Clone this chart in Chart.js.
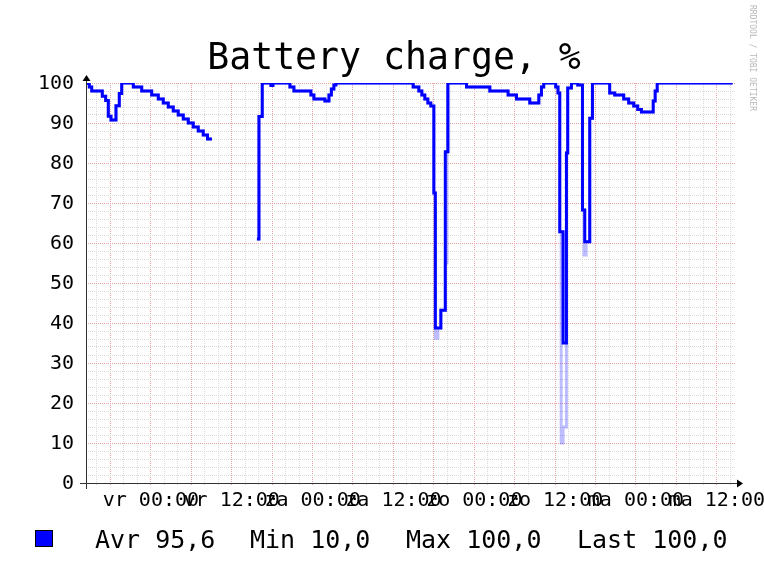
<!DOCTYPE html>
<html>
<head>
<meta charset="utf-8">
<script src="https://cdn.jsdelivr.net/npm/chart.js@4"></script>
<style>
  html, body { margin: 0; padding: 0; background: #ffffff; }
  #wrap { width: 764px; height: 571px; }
</style>
</head>
<body>
<div id="wrap"><canvas id="chartBattery" width="764" height="571"></canvas></div>
<script>
// hours relative to vr 00:00
const hours = [
  -9.63, -9.14, -8.78, -7.21, -6.71, -6.32, -5.92, -5.18, -4.69, -4.33, -2.61, -1.36,
  0.12, 1.10, 1.84, 2.58, 3.32, 4.06, 4.81, 5.55, 6.29, 7.03, 7.77, 8.40, 9.06, 9.2,
  15.74, 16.04, 16.53, 17.82, 18.11, 20.64, 21.23, 23.75, 24.20, 25.83, 26.43, 26.79, 27.16, 27.46,
  38.93, 39.77, 40.22, 40.66, 41.11, 41.55, 42.0, 42.22, 42.6, 43.04, 43.7, 43.95, 44.07, 44.2,
  46.85, 50.31, 53.02, 54.27, 56.24, 57.58, 57.97, 58.31, 60.09, 60.43, 60.69, 60.9, 61.18, 61.68, 61.87, 62.42,
  63.36, 64.06, 64.3, 64.40, 64.6, 65.14, 65.54, 68.10, 68.85, 70.18, 70.92, 71.67, 72.26, 72.81, 74.56, 74.85, 75.15, 86.35
];
const avgCharge = [
  99.9, 99, 98, 96.7, 95.6, 91.7, 90.75, 94.3, 97.4, 100, 99, 98,
  97, 96, 95, 94, 93, 92, 91, 90, 89, 88, 87, 86, 86, null,
  61, 91.6, 100, 99.4, 100, 99, 98, 97, 96, 95.5, 97, 98.5, 99.5, 100,
  99, 98, 97, 96, 95, 94.25, 72.5, 38.75, 38.75, 43.2, 82.8, 82.8, 100, 100,
  99, 98, 97, 96, 95, 97, 99, 100, 99, 97.5, 62.8, 62.8, 35, 82.5, 98.75, 100,
  99.5, 68.25, 68.25, 60.3, 60.3, 91.2, 100, 97.5, 97, 96, 95, 94.25, 93.4, 92.75, 95.5, 98, 100, 100
];
const minCharge = [
  99.9, 99, 98, 96.7, 95.6, 91.7, 90.75, 94.3, 97.4, 100, 99, 98,
  97, 96, 95, 94, 93, 92, 91, 90, 89, 88, 87, 86, 86, null,
  61, 91.6, 100, 99.4, 100, 99, 98, 97, 96, 95.5, 97, 98.5, 99.5, 100,
  99, 98, 97, 96, 95, 94.25, 72.5, 36.2, 38.75, 43.2, 55, 82.8, 82.8, 100,
  99, 98, 97, 96, 95, 97, 99, 100, 99, 97.5, 62.8, 10, 14, 82.5, 98.75, 100,
  99.5, 68.25, 57, 57, 60.3, 91.2, 100, 97.5, 97, 96, 95, 94.25, 93.4, 92.75, 95.5, 98, 100, 100
];

const dayNames = ['vr', 'za', 'zo', 'ma'];
const labelHours = [0, 12, 24, 36, 48, 60, 72, 84];
const legendItems = ['Avr 95,6', 'Min 10,0', 'Max 100,0', 'Last 100,0'];

const startHour = -9.63, endHour = 86.7;
const MONO = '"DejaVu Sans Mono", monospace';
const gridGrey = '#d8d8d8', gridRed = '#e8a4a4';

function hourLabel(h) {
    if (!labelHours.includes(h)) return '';
    return dayNames[Math.floor(h / 24)] + (h % 24 === 0 ? ' 00:00' : ' 12:00');
}

const rrdDecor = {
    id: 'rrdDecor',
    afterDraw(chart) {
        const ctx = chart.ctx;
        const { left, right, top, bottom } = chart.chartArea;
        ctx.save();

        // axes with arrows
        ctx.strokeStyle = '#333333';
        ctx.fillStyle = '#000000';
        ctx.lineWidth = 1;
        ctx.beginPath();
        ctx.moveTo(left - 6, bottom + 0.5);
        ctx.lineTo(right + 4, bottom + 0.5);
        ctx.moveTo(left + 0.5, bottom + 6);
        ctx.lineTo(left + 0.5, top - 4);
        ctx.stroke();
        ctx.beginPath();
        ctx.moveTo(right + 8, bottom + 0.5);
        ctx.lineTo(right + 2, bottom - 3.5);
        ctx.lineTo(right + 2, bottom + 4.5);
        ctx.closePath();
        ctx.fill();
        ctx.beginPath();
        ctx.moveTo(left + 0.5, top - 8);
        ctx.lineTo(left - 3.5, top - 2);
        ctx.lineTo(left + 4.5, top - 2);
        ctx.closePath();
        ctx.fill();

        // title
        ctx.fillStyle = '#000000';
        ctx.font = '36.5px ' + MONO;
        ctx.textAlign = 'center';
        ctx.textBaseline = 'alphabetic';
        ctx.fillText('Battery charge, %', 394, 69);

        // legend
        ctx.fillStyle = '#0000ff';
        ctx.fillRect(35, 530, 18, 17);
        ctx.strokeStyle = '#000000';
        ctx.strokeRect(35.5, 530.5, 17, 16);
        ctx.fillStyle = '#000000';
        ctx.font = '25px ' + MONO;
        ctx.textAlign = 'left';
        const legendX = [95, 250, 406, 577];
        legendItems.forEach((t, i) => ctx.fillText(t, legendX[i], 548));

        // watermark
        ctx.translate(752, 5);
        ctx.rotate(Math.PI / 2);
        ctx.fillStyle = '#b8b8b8';
        ctx.font = '8px ' + MONO;
        ctx.textBaseline = 'middle';
        ctx.fillText('RRDTOOL / TOBI OETIKER', 0, 0);
        ctx.restore();
    }
};

const xTicks = [];
for (let h = -8; h <= 86; h += 2) xTicks.push(h);
const yTicks = [];
for (let v = 0; v <= 100; v += 2) yTicks.push(v);

new Chart(document.getElementById('chartBattery'), {
    type: 'line',
    data: {
        datasets: [
            {
                label: 'Avr',
                data: hours.map((h, i) => ({ x: h, y: avgCharge[i] })),
                borderColor: '#0000ff',
                borderWidth: 3,
                stepped: true,
                pointRadius: 0,
                fill: false,
                borderJoinStyle: 'miter',
                borderCapStyle: 'butt'
            },
            {
                label: 'Min',
                data: hours.map((h, i) => ({ x: h, y: minCharge[i] })),
                borderColor: 'rgba(0, 0, 255, 0.26)',
                borderWidth: 3,
                stepped: true,
                pointRadius: 0,
                fill: false,
                borderJoinStyle: 'miter',
                borderCapStyle: 'butt'
            }
        ]
    },
    options: {
        responsive: false,
        animation: false,
        devicePixelRatio: 1,
        layout: { padding: { left: 0, right: 29, top: 83, bottom: 0 } },
        plugins: { legend: { display: false }, tooltip: { enabled: false }, title: { display: false } },
        scales: {
            x: {
                type: 'linear',
                min: startHour,
                max: endHour,
                afterBuildTicks: axis => { axis.ticks = xTicks.map(v => ({ value: v })); },
                afterFit: axis => { axis.height = 88; },
                grid: {
                    drawTicks: true,
                    tickLength: 2,
                    color: c => (c.tick && c.tick.value % 6 === 0 ? gridRed : gridGrey),
                    tickColor: c => (c.tick && c.tick.value % 6 === 0 ? gridRed : gridGrey),
                    lineWidth: 1
                },
                border: { display: false, dash: [1, 1] },
                ticks: {
                    autoSkip: false,
                    maxRotation: 0,
                    minRotation: 0,
                    padding: 4,
                    color: '#000000',
                    font: { family: MONO, size: 20 },
                    callback: v => hourLabel(v)
                }
            },
            y: {
                min: 0,
                max: 100,
                afterBuildTicks: axis => { axis.ticks = yTicks.map(v => ({ value: v })); },
                afterFit: axis => { axis.width = 86; },
                grid: {
                    drawTicks: false,
                    color: c => (c.tick && c.tick.value % 10 === 0 ? gridRed : gridGrey),
                    lineWidth: 1
                },
                border: { display: false, dash: [1, 1] },
                ticks: {
                    autoSkip: false,
                    padding: 12,
                    labelOffset: 1,
                    color: '#000000',
                    font: { family: MONO, size: 20 },
                    callback: v => (v % 10 === 0 ? String(v) : '')
                }
            }
        }
    },
    plugins: [rrdDecor]
});
</script>
</body>
</html>
